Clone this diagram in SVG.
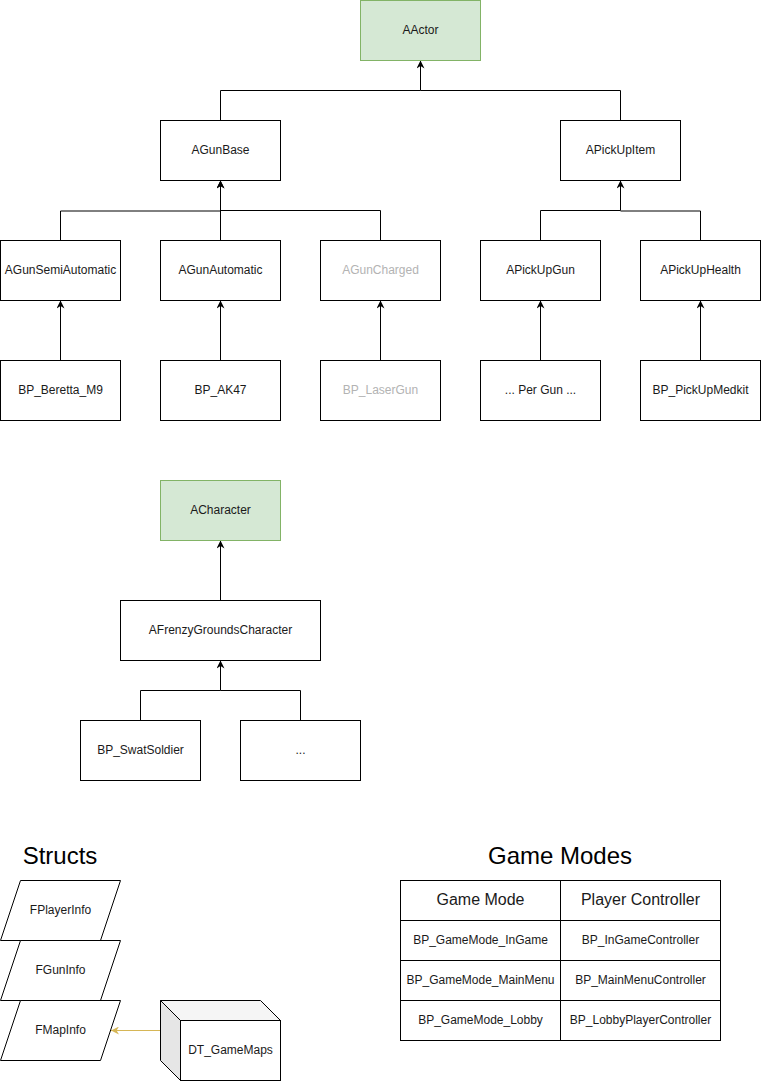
<svg xmlns="http://www.w3.org/2000/svg" width="761" height="1081" viewBox="0 0 761 1081">
<style>
  .box { fill: #ffffff; stroke: #000000; stroke-width: 1; }
  .green { fill: #d5e8d4; stroke: #82b366; stroke-width: 1; }
  .lbl { font-family: "Liberation Sans", Arial, sans-serif; font-size: 12px; fill: #1a1a1a; text-anchor: middle; dominant-baseline: central; }
  .dim { fill: #b3b3b3; }
  .title { font-family: "Liberation Sans", Arial, sans-serif; font-size: 24px; fill: #000000; text-anchor: middle; }
  .hdr { font-family: "Liberation Sans", Arial, sans-serif; font-size: 16px; fill: #1a1a1a; text-anchor: middle; dominant-baseline: central; }
  .conn { fill: none; stroke: #000000; stroke-width: 1; }
  .yconn { fill: none; stroke: #d6b656; stroke-width: 1; }
</style>
<defs>
  <marker id="arr" viewBox="0 0 10 10" refX="10" refY="5" markerWidth="8" markerHeight="8" markerUnits="userSpaceOnUse" orient="auto">
    <path d="M0,0 L10,5 L0,10 L3,5 Z" fill="#000000"/>
  </marker>
  <marker id="yarr" viewBox="0 0 10 10" refX="10" refY="5" markerWidth="8" markerHeight="8" markerUnits="userSpaceOnUse" orient="auto">
    <path d="M0,0 L10,5 L0,10 L3,5 Z" fill="#d6b656"/>
  </marker>
</defs>
<rect width="761" height="1081" fill="#ffffff"/>

<g id="connectors">
  <path class="conn" d="M220.5,120 V90.5 H420.5 V60.5" marker-end="url(#arr)"/>
  <path class="conn" d="M620.5,120 V90.5 H420.5"/>
  <path class="conn" d="M60.5,240 V211 H220.5 V180.5" marker-end="url(#arr)"/>
  <path class="conn" d="M220.5,240 V180.5" marker-end="url(#arr)"/>
  <path class="conn" d="M380.5,240 V210.5 H220.5"/>
  <path class="conn" d="M540.5,240 V210.5 H620.5 V180.5" marker-end="url(#arr)"/>
  <path class="conn" d="M700.5,240 V211 H620.5"/>
  <path class="conn" d="M60.5,360 V300.5" marker-end="url(#arr)"/>
  <path class="conn" d="M220.5,360 V300.5" marker-end="url(#arr)"/>
  <path class="conn" d="M380.5,360 V300.5" marker-end="url(#arr)"/>
  <path class="conn" d="M540.5,360 V300.5" marker-end="url(#arr)"/>
  <path class="conn" d="M700.5,360 V300.5" marker-end="url(#arr)"/>
  <path class="conn" d="M220.5,600 V540.5" marker-end="url(#arr)"/>
  <path class="conn" d="M140.5,720 V690.5 H220.5 V660.5" marker-end="url(#arr)"/>
  <path class="conn" d="M300.5,720 V690.5 H220.5"/>
  <path class="yconn" d="M160,1030.5 H111" marker-end="url(#yarr)"/>
</g>

<g id="AActor"><rect class="green" x="360.5" y="0.5" width="120" height="60"/><text class="lbl" x="420.5" y="29.5">AActor</text></g>
<g id="AGunBase"><rect class="box" x="160.5" y="120.5" width="120" height="60"/><text class="lbl" x="220.5" y="149.5">AGunBase</text></g>
<g id="APickUpItem"><rect class="box" x="560.5" y="120.5" width="120" height="60"/><text class="lbl" x="620.5" y="149.5">APickUpItem</text></g>

<g id="AGunSemiAutomatic"><rect class="box" x="0.5" y="240.5" width="120" height="60"/><text class="lbl" x="60.5" y="269.5">AGunSemiAutomatic</text></g>
<g id="AGunAutomatic"><rect class="box" x="160.5" y="240.5" width="120" height="60"/><text class="lbl" x="220.5" y="269.5">AGunAutomatic</text></g>
<g id="AGunCharged"><rect class="box" x="320.5" y="240.5" width="120" height="60"/><text class="lbl dim" x="380.5" y="269.5">AGunCharged</text></g>
<g id="APickUpGun"><rect class="box" x="480.5" y="240.5" width="120" height="60"/><text class="lbl" x="540.5" y="269.5">APickUpGun</text></g>
<g id="APickUpHealth"><rect class="box" x="640.5" y="240.5" width="120" height="60"/><text class="lbl" x="700.5" y="269.5">APickUpHealth</text></g>

<g id="BP_Beretta_M9"><rect class="box" x="0.5" y="360.5" width="120" height="60"/><text class="lbl" x="60.5" y="389.5">BP_Beretta_M9</text></g>
<g id="BP_AK47"><rect class="box" x="160.5" y="360.5" width="120" height="60"/><text class="lbl" x="220.5" y="389.5">BP_AK47</text></g>
<g id="BP_LaserGun"><rect class="box" x="320.5" y="360.5" width="120" height="60"/><text class="lbl dim" x="380.5" y="389.5">BP_LaserGun</text></g>
<g id="PerGun"><rect class="box" x="480.5" y="360.5" width="120" height="60"/><text class="lbl" x="540.5" y="389.5">... Per Gun ...</text></g>
<g id="BP_PickUpMedkit"><rect class="box" x="640.5" y="360.5" width="120" height="60"/><text class="lbl" x="700.5" y="389.5">BP_PickUpMedkit</text></g>

<g id="ACharacter"><rect class="green" x="160.5" y="480.5" width="120" height="60"/><text class="lbl" x="220.5" y="509.5">ACharacter</text></g>
<g id="AFrenzyGroundsCharacter"><rect class="box" x="120.5" y="600.5" width="200" height="60"/><text class="lbl" x="220.5" y="629.5">AFrenzyGroundsCharacter</text></g>
<g id="BP_SwatSoldier"><rect class="box" x="80.5" y="720.5" width="120" height="60"/><text class="lbl" x="140.5" y="749.5">BP_SwatSoldier</text></g>
<g id="Ellipsis"><rect class="box" x="240.5" y="720.5" width="120" height="60"/><text class="lbl" x="300.5" y="749.5">...</text></g>

<g id="StructsTitle"><text class="title" x="60" y="864">Structs</text></g>
<g id="FPlayerInfo"><polygon class="box" points="20.5,880.5 120.5,880.5 100.5,940.5 0.5,940.5"/><text class="lbl" x="60.5" y="909.5">FPlayerInfo</text></g>
<g id="FGunInfo"><polygon class="box" points="20.5,940.5 120.5,940.5 100.5,1000.5 0.5,1000.5"/><text class="lbl" x="60.5" y="969.5">FGunInfo</text></g>
<g id="FMapInfo"><polygon class="box" points="20.5,1000.5 120.5,1000.5 100.5,1060.5 0.5,1060.5"/><text class="lbl" x="60.5" y="1029.5">FMapInfo</text></g>

<g id="DT_GameMaps">
  <polygon points="160.5,1000.5 260.5,1000.5 280.5,1020.5 180.5,1020.5" fill="#f5f5f5" stroke="#000" stroke-width="1"/>
  <polygon points="160.5,1000.5 180.5,1020.5 180.5,1080.5 160.5,1060.5" fill="#e6e6e6" stroke="#000" stroke-width="1"/>
  <rect class="box" x="180.5" y="1020.5" width="100" height="60"/>
  <text class="lbl" x="230.5" y="1049.5">DT_GameMaps</text>
</g>

<g id="GameModesTitle"><text class="title" x="560" y="864">Game Modes</text></g>
<g id="GameModesTable">
  <rect class="box" x="400.5" y="880.5" width="320" height="160"/>
  <line x1="560.5" y1="880.5" x2="560.5" y2="1040.5" stroke="#000"/>
  <line x1="400.5" y1="920.5" x2="720.5" y2="920.5" stroke="#000"/>
  <line x1="400.5" y1="960.5" x2="720.5" y2="960.5" stroke="#000"/>
  <line x1="400.5" y1="1000.5" x2="720.5" y2="1000.5" stroke="#000"/>
  <text class="hdr" x="480.5" y="899.5">Game Mode</text>
  <text class="hdr" x="640.5" y="899.5">Player Controller</text>
  <text class="lbl" x="480.5" y="939.5">BP_GameMode_InGame</text>
  <text class="lbl" x="640.5" y="939.5">BP_InGameController</text>
  <text class="lbl" x="480.5" y="979.5">BP_GameMode_MainMenu</text>
  <text class="lbl" x="640.5" y="979.5">BP_MainMenuController</text>
  <text class="lbl" x="480.5" y="1019.5">BP_GameMode_Lobby</text>
  <text class="lbl" x="640.5" y="1019.5">BP_LobbyPlayerController</text>
</g>
</svg>
